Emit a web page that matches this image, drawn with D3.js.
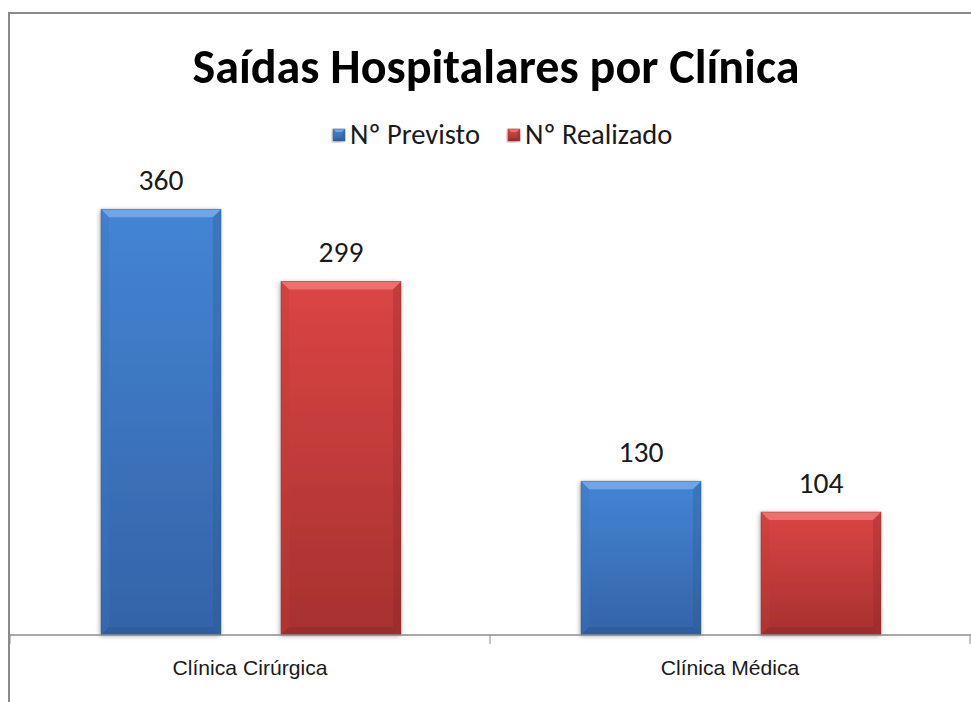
<!DOCTYPE html>
<html>
<head>
<meta charset="utf-8">
<script src="https://cdn.jsdelivr.net/npm/d3@7"></script>
<style>
  body { margin: 0; background: #fff; }
  svg { display: block; font-family: Carlito, Lato, "Open Sans", sans-serif; }
</style>
</head>
<body>
<script>
const categories = ["Clínica Cirúrgica", "Clínica Médica"];
const seriesNames = ["Nº Previsto", "Nº Realizado"];
const previsto = [360, 130];
const realizado = [299, 104];
const title = "Saídas Hospitalares por Clínica";

const W = 971, H = 702;
const svg = d3.select("body").append("svg")
    .attr("width", W)
    .attr("height", H);

// chart frame (runs off the right/bottom of the picture)
svg.append("rect")
    .attr("x", 9).attr("y", 13)
    .attr("width", 1000).attr("height", 1000)
    .attr("fill", "none")
    .attr("stroke", "#8a8a8a")
    .attr("stroke-width", 2);

// shrink/grow a text node so it spans the given width
function fitWidth(sel, base, target) {
  sel.attr("font-size", base);
  const w = sel.node().getComputedTextLength();
  const fs = base * target / w;
  sel.attr("font-size", fs);
  return fs;
}

const defs = svg.append("defs");
const palette = [
  {id: "blue", top: "#4485d4", bottom: "#3463a7", bevel: "#79ace9", side: "#3a73bf", dark: "#2c5590"},
  {id: "red",  top: "#db4544", bottom: "#a63130", bevel: "#ee7876", side: "#c53b3a", dark: "#8c2828"}
];
palette.forEach(p => {
  const g = defs.append("linearGradient").attr("id", "g-" + p.id)
      .attr("x1", 0).attr("y1", 0).attr("x2", 0).attr("y2", 1);
  g.append("stop").attr("offset", "0%").attr("stop-color", p.top);
  g.append("stop").attr("offset", "100%").attr("stop-color", p.bottom);
});
const shadow = defs.append("filter").attr("id", "shadow")
    .attr("x", "-10%").attr("y", "-10%").attr("width", "120%").attr("height", "120%");
shadow.append("feGaussianBlur").attr("in", "SourceAlpha").attr("stdDeviation", 2.5).attr("result", "b");
shadow.append("feOffset").attr("in", "b").attr("dx", -1).attr("dy", 1).attr("result", "o");
shadow.append("feComponentTransfer").attr("in", "o").attr("result", "s")
  .append("feFuncA").attr("type", "linear").attr("slope", 0.35);
const merge = shadow.append("feMerge");
merge.append("feMergeNode").attr("in", "s");
merge.append("feMergeNode").attr("in", "SourceGraphic");

const plot = {left: 10, right: 970, top: 162, bottom: 635};

const x0 = d3.scaleBand()
    .domain(categories)
    .range([plot.left, plot.right])
    .paddingInner(0)
    .paddingOuter(0);

const x1 = d3.scaleBand()
    .domain(seriesNames)
    .range([1, x0.bandwidth() + 1])
    .paddingInner(1 / 3)
    .paddingOuter(0.5);

const y = d3.scaleLinear()
    .domain([0, 400])
    .range([plot.bottom, plot.top]);

const rows = [];
categories.forEach((c, i) => {
  rows.push({cat: c, series: seriesNames[0], value: previsto[i], p: palette[0]});
  rows.push({cat: c, series: seriesNames[1], value: realizado[i], p: palette[1]});
});

function bevelBar(g, xa, xb, ya, yb, p, b) {
  g.append("rect")
      .attr("x", xa).attr("y", ya)
      .attr("width", xb - xa).attr("height", yb - ya)
      .attr("fill", `url(#g-${p.id})`)
      .attr("filter", "url(#shadow)");
  const poly = pts => g.append("polygon").attr("points", pts.map(q => q.join(",")).join(" "));
  poly([[xa, ya], [xb, ya], [xb - b, ya + b], [xa + b, ya + b]]).attr("fill", p.bevel).attr("opacity", 0.85);
  poly([[xa, ya], [xa + b, ya + b], [xa + b, yb - b], [xa, yb]]).attr("fill", p.side).attr("opacity", 0.3);
  poly([[xb, ya], [xb - b, ya + b], [xb - b, yb - b], [xb, yb]]).attr("fill", p.dark).attr("opacity", 0.3);
  poly([[xa, yb], [xa + b, yb - b], [xb - b, yb - b], [xb, yb]]).attr("fill", p.dark).attr("opacity", 0.45);
  g.append("rect")
      .attr("x", xa).attr("y", ya)
      .attr("width", xb - xa).attr("height", yb - ya)
      .attr("fill", "none")
      .attr("stroke", p.dark).attr("stroke-opacity", 0.5).attr("stroke-width", 0.8);
}

const bars = svg.append("g");
rows.forEach(d => {
  const xa = x0(d.cat) + x1(d.series);
  const xb = xa + x1.bandwidth();
  bevelBar(bars.append("g"), xa, xb, y(d.value), y(0), d.p, 8);
});

// value labels
const vl = svg.append("g").selectAll("text")
  .data(rows)
  .join("text")
    .attr("x", d => x0(d.cat) + x1(d.series) + x1.bandwidth() / 2)
    .attr("y", d => y(d.value) - 19)
    .attr("text-anchor", "middle")
    .attr("fill", "#1a1a1a")
    .text(d => d.value);
const vfs = fitWidth(d3.select(vl.nodes()[0]), 26, 45);
vl.attr("font-size", vfs);

// category axis
const axis = svg.append("g")
    .attr("transform", `translate(0,${plot.bottom})`)
    .call(d3.axisBottom(x0).tickSize(0).tickPadding(0).tickFormat(""));
axis.select(".domain").remove();
axis.append("line")
    .attr("x1", plot.left).attr("x2", plot.right + 2)
    .attr("stroke", "#8c8c8c").attr("stroke-width", 1.5);
const edges = [plot.left, ...categories.map(c => x0(c) + x0.bandwidth())];
axis.selectAll("line.sep")
  .data(edges)
  .join("line")
    .attr("class", "sep")
    .attr("x1", d => d).attr("x2", d => d)
    .attr("y1", 0).attr("y2", 9)
    .attr("stroke", "#8c8c8c").attr("stroke-width", 1);
axis.selectAll(".tick text").remove();
const cl = axis.selectAll(".tick").append("text")
    .attr("y", 40)
    .attr("text-anchor", "middle")
    .attr("fill", "#1a1a1a")
    .text(d => d);
const cfs = fitWidth(d3.select(cl.nodes()[0]), 19, 155);
cl.attr("font-size", cfs);

// title
const t = svg.append("text")
    .attr("x", 496).attr("y", 83)
    .attr("text-anchor", "middle")
    .attr("font-weight", "bold")
    .attr("fill", "#000")
    .text(title);
fitWidth(t, 44, 607);

// legend
const legend = svg.append("g").attr("transform", "translate(333,129)");
let lx = 0, lfs = null;
seriesNames.forEach((s, i) => {
  const g = legend.append("g").attr("transform", `translate(${lx},0)`);
  bevelBar(g, 0, 12, 0, 12, palette[i], 3);
  const tx = g.append("text")
      .attr("x", 17).attr("y", 15)
      .attr("fill", "#1a1a1a")
      .text(s);
  if (lfs === null) lfs = fitWidth(tx, 21, 130);
  else tx.attr("font-size", lfs);
  lx += 17 + tx.node().getComputedTextLength() + 28;
});
</script>
</body>
</html>
